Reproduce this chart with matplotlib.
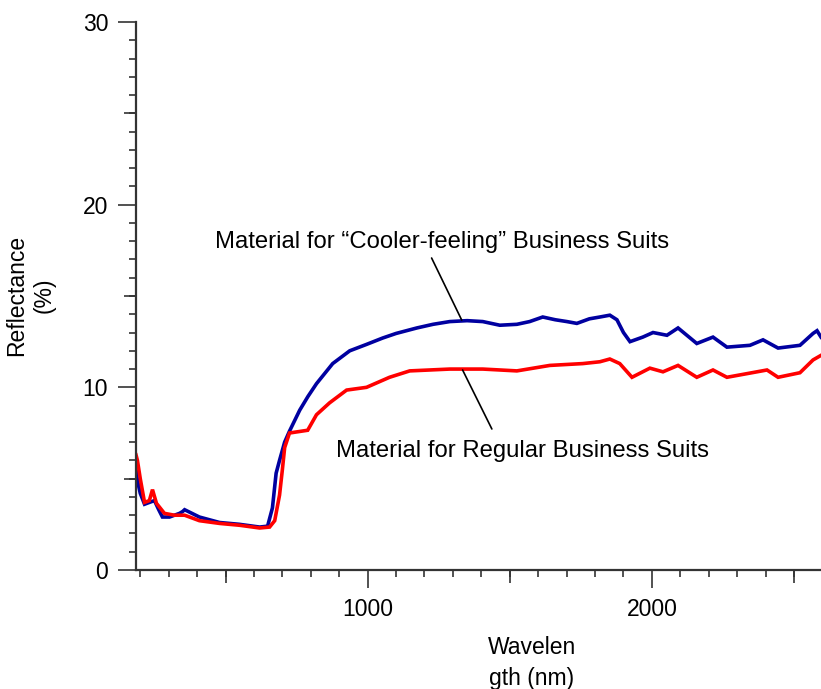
import matplotlib
matplotlib.use('Agg')
import matplotlib.pyplot as plt
from matplotlib.ticker import MultipleLocator, FixedLocator, NullFormatter

plt.rcParams['font.family'] = ['Liberation Sans', 'DejaVu Sans']

# wavelength (nm) and reflectance (%)
wl_cool = [185, 190, 200, 215, 232, 250, 265, 278, 303, 338, 349, 356, 408, 479, 549,
           620, 648, 665, 678, 690, 708, 725, 761, 790, 820, 877, 937, 996, 1053, 1100,
           1173, 1230, 1289, 1350, 1405, 1465, 1525, 1570, 1616, 1660, 1701, 1736, 1780,
           1817, 1852, 1877, 1900, 1923, 1968, 2004, 2053, 2092, 2158, 2215, 2264, 2345,
           2391, 2444, 2521, 2567, 2581, 2595]
refl_cool = [5.5, 4.9, 4.2, 3.6, 3.7, 3.8, 3.3, 2.9, 2.9, 3.1, 3.2, 3.3, 2.9, 2.6, 2.5,
             2.35, 2.4, 3.4, 5.3, 6.0, 7.0, 7.6, 8.75, 9.5, 10.2, 11.3, 12.0, 12.35, 12.7, 12.95,
             13.25, 13.45, 13.6, 13.65, 13.6, 13.4, 13.45, 13.6, 13.85, 13.7, 13.6, 13.5, 13.75,
             13.85, 13.95, 13.7, 13.0, 12.5, 12.75, 13.0, 12.85, 13.25, 12.4, 12.75, 12.2, 12.3,
             12.6, 12.15, 12.3, 12.95, 13.1, 12.75]

wl_reg = [185, 190, 200, 215, 232, 243, 257, 285, 320, 356, 408, 479, 549, 620, 655, 673,
          690, 700, 708, 725, 789, 820, 866, 926, 996, 1077, 1148, 1289, 1405, 1525, 1641,
          1757, 1817, 1852, 1887, 1930, 1993, 2039, 2092, 2158, 2215, 2264, 2370, 2405, 2444,
          2521, 2567, 2595]
refl_reg = [6.3, 6.0, 5.0, 3.7, 3.8, 4.4, 3.65, 3.1, 3.0, 3.0, 2.7, 2.55, 2.45, 2.3, 2.35, 2.7,
            4.1, 5.5, 6.7, 7.5, 7.65, 8.5, 9.15, 9.85, 10.0, 10.55, 10.9, 11.0, 11.0, 10.9, 11.2,
            11.3, 11.4, 11.55, 11.3, 10.55, 11.05, 10.85, 11.2, 10.55, 10.95, 10.55, 10.85, 10.95, 10.55,
            10.8, 11.5, 11.75]

fs = 16.5
axcol = '#333333'

fig = plt.figure(figsize=(8.21, 6.89), dpi=100)
ax = fig.add_axes([136/821, 1 - 570/689, 1 - 136/821, (570 - 22)/689])

ax.plot(wl_cool, refl_cool, color='#0000a0', lw=2.6, solid_joinstyle='miter')
ax.plot(wl_reg, refl_reg, color='#ff0000', lw=2.6, solid_joinstyle='miter')

ax.set_xlim(185, 2595)
ax.set_ylim(0, 30)

for s in ['top', 'right']:
    ax.spines[s].set_visible(False)
for s in ['left', 'bottom']:
    ax.spines[s].set_color(axcol)
    ax.spines[s].set_linewidth(1.6)

ax.yaxis.set_major_locator(MultipleLocator(10))
ax.yaxis.set_minor_locator(MultipleLocator(1))
ax.xaxis.set_major_locator(FixedLocator([1000, 2000]))
ax.xaxis.set_minor_locator(MultipleLocator(100))
ax.tick_params(which='major', length=13, width=1.2, color=axcol, labelsize=fs, pad=7)
ax.tick_params(which='minor', length=5, width=1.2, color=axcol)

# medium ticks at the half steps
sy = ax.secondary_yaxis('left')
sy.yaxis.set_major_locator(FixedLocator([5, 15, 25]))
sy.yaxis.set_major_formatter(NullFormatter())
sy.tick_params(length=8.6, width=1.2, color=axcol)
sy.spines['left'].set_visible(False)
sx = ax.secondary_xaxis('bottom')
sx.xaxis.set_major_locator(FixedLocator([500, 1500, 2500]))
sx.xaxis.set_major_formatter(NullFormatter())
sx.tick_params(length=9, width=1.2, color=axcol)
sx.spines['bottom'].set_visible(False)

fig.text(0.037, 1 - 295/689, 'Reflectance\n(%)', rotation=90, ha='center', va='center',
         fontsize=fs, linespacing=1.2)
fig.text(532/821, 1 - 663/689, 'Wavelen\ngth (nm)', ha='center', va='center',
         fontsize=fs, linespacing=1.4)

ax.text(1261, 17.95, 'Material for \u201cCooler-feeling\u201d Business Suits', ha='center',
        va='center', fontsize=17.2)
ax.text(1546, 6.5, 'Material for Regular Business Suits', ha='center', va='center', fontsize=17.2)
ax.annotate('', xy=(1331, 13.68), xytext=(1225, 17.08),
            arrowprops=dict(arrowstyle='-', color='black', lw=1.2, shrinkA=0, shrinkB=0))
ax.annotate('', xy=(1334, 10.95), xytext=(1437, 7.72),
            arrowprops=dict(arrowstyle='-', color='black', lw=1.2, shrinkA=0, shrinkB=0))

fig.savefig('out.png', dpi=100)
